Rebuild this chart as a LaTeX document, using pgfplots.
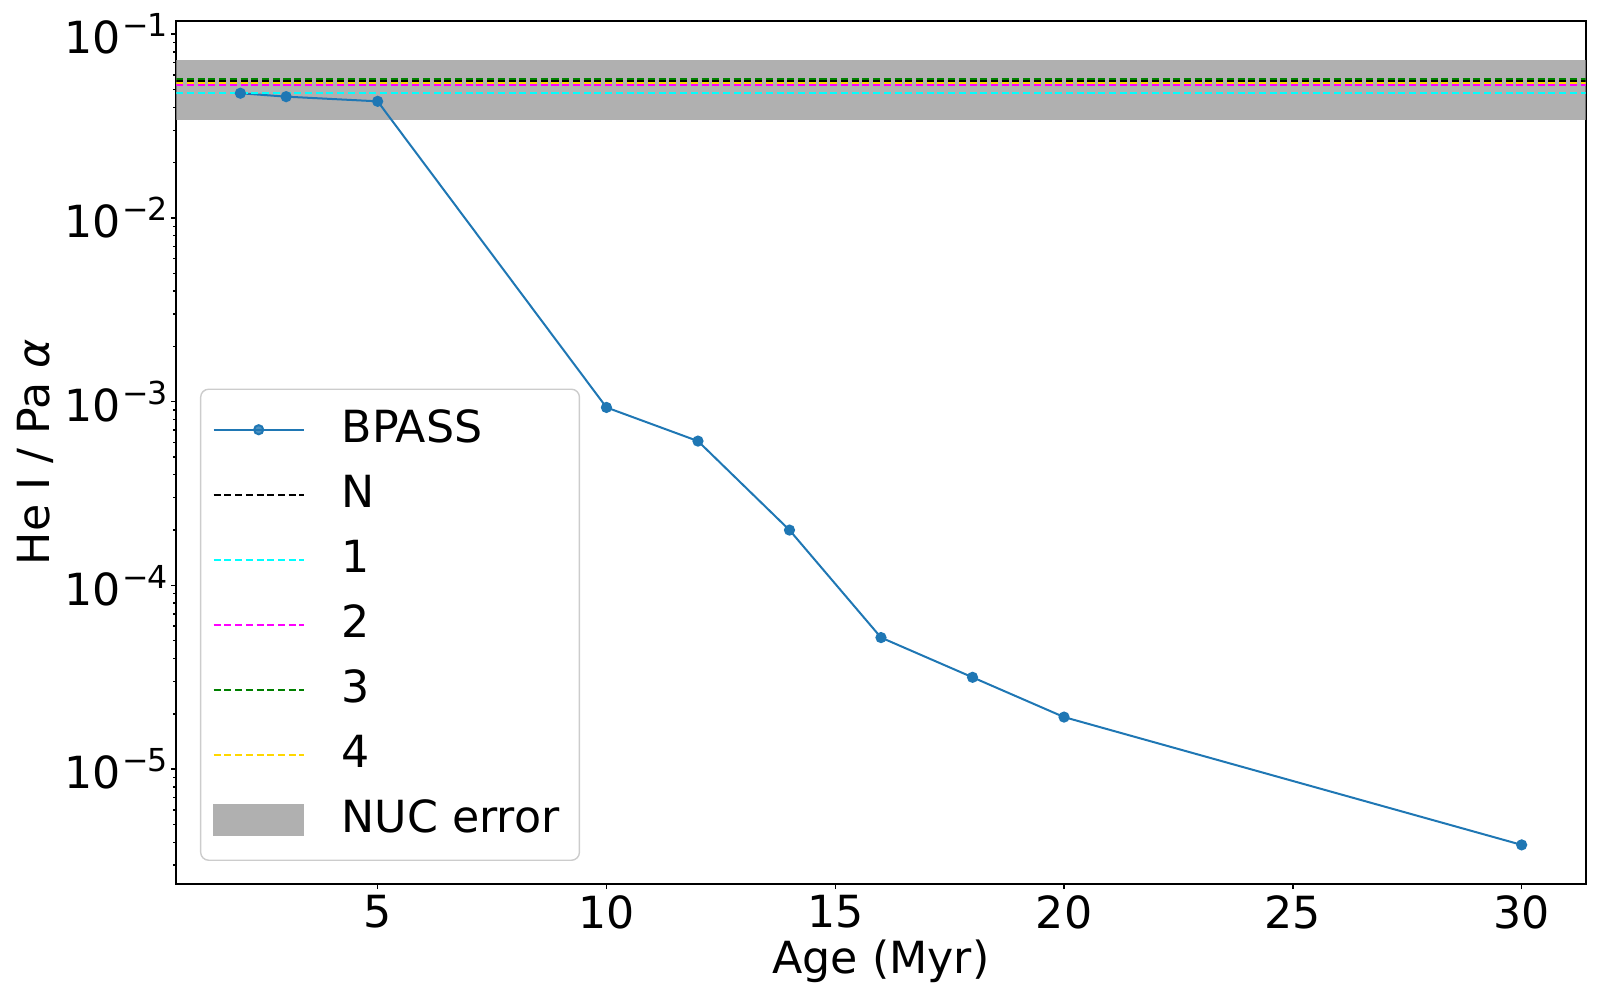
\documentclass[border=0pt]{standalone}
\usepackage{fontspec}
\setmainfont{DejaVu Sans}
\usepackage{pgfplots}
\pgfplotsset{compat=1.18}

\definecolor{c0}{HTML}{1F77B4}
\definecolor{bandgray}{RGB}{176,176,176}
\definecolor{mgold}{RGB}{255,215,0}
\definecolor{mcyan}{RGB}{0,255,255}
\definecolor{mmagenta}{RGB}{255,0,255}
\definecolor{mgreen}{RGB}{0,128,0}
\definecolor{legframe}{RGB}{204,204,204}

\newcommand{\tenexp}[1]{10\kern0.04em\raisebox{4.8pt}{\fontsize{9pt}{9pt}\selectfont −\kern-0.05em#1}}
\newcommand{\bigfont}{\fontsize{12.6pt}{15pt}\selectfont}

\begin{document}
\begin{tikzpicture}
\path[use as bounding box] (-1.763,-1.16) rectangle (14.237,8.84);
\begin{axis}[
  at={(0,0)}, anchor=south west,
  scale only axis, width=14.094cm, height=8.633cm,
  ymode=log, xmin=0.6, xmax=31.4, ymin=2.37e-6, ymax=0.1184,
  xtick={5,10,15,20,25,30},
  xticklabels={5,10,15,20,25,30},
  ytick={1e-5,1e-4,1e-3,1e-2,1e-1},
  yticklabels={\tenexp{5},\tenexp{4},\tenexp{3},\tenexp{2},\tenexp{1}},
  minor ytick={3e-6,4e-6,5e-6,6e-6,7e-6,8e-6,9e-6,
    2e-5,3e-5,4e-5,5e-5,6e-5,7e-5,8e-5,9e-5,
    2e-4,3e-4,4e-4,5e-4,6e-4,7e-4,8e-4,9e-4,
    2e-3,3e-3,4e-3,5e-3,6e-3,7e-3,8e-3,9e-3,
    2e-2,3e-2,4e-2,5e-2,6e-2,7e-2,8e-2,9e-2},
  tick align=outside, xtick pos=bottom, ytick pos=left,
  major tick length=0.05cm, minor tick length=0.03cm,
  tick style={black, line width=0.4pt},
  axis line style={black, line width=0.5pt},
  tick label style={font=\bigfont},
  xticklabel style={inner ysep=0.06cm, inner xsep=0pt},
  yticklabel style={inner xsep=0.03cm, inner ysep=0pt},
  label style={font=\bigfont},
  xlabel={Age (Myr)}, ylabel={He I / Pa {\itshape α}},
  xlabel style={at={(axis description cs:0.5,-0.0892)}, anchor=center, inner sep=0pt},
  ylabel style={at={(axis description cs:-0.0998,0.5)}, anchor=center, inner sep=0pt},
  legend style={at={(axis description cs:0.0168,0.0267)}, anchor=south west,
    draw=legframe, rounded corners=0.08cm, fill=white, fill opacity=0.8, text opacity=1,
    font=\bigfont, row sep=0.24cm, inner xsep=0.12cm, inner ysep=0.2cm,
    nodes={inner sep=0pt, text height=0.33cm, text depth=0.08cm}},
  legend cell align=left,
  legend image code/.code={\draw[mark repeat=2,mark phase=2,#1] plot coordinates {(0cm,0cm) (0.45cm,0cm) (0.9cm,0cm)};},
  every axis legend/.append style={column sep=0.37cm},
]
\addplot[draw=none, fill=bandgray, forget plot] coordinates {(0.6,0.0343) (31.4,0.0343) (31.4,0.0724) (0.6,0.0724)} -- cycle;

\addplot[c0, line width=0.57pt, mark=*, mark size=1.3pt, mark options={solid, fill=c0, draw=c0}] coordinates {
(2,0.0477) (3,0.0457) (5,0.0431) (10,9.3e-4) (12,6.1e-4) (14,2.0e-4) (16,5.2e-5) (18,3.16e-5) (20,1.92e-5) (30,3.87e-6)};
\addlegendentry{BPASS}
\addplot[black, line width=0.57pt, dash pattern=on 2pt off 1.05pt] coordinates {(0.6,0.0556) (31.4,0.0556)};
\addlegendentry{N}
\addplot[mcyan, line width=0.57pt, dash pattern=on 2pt off 1.05pt] coordinates {(0.6,0.0481) (31.4,0.0481)};
\addlegendentry{1}
\addplot[mmagenta, line width=0.57pt, dash pattern=on 2pt off 1.05pt] coordinates {(0.6,0.0530) (31.4,0.0530)};
\addlegendentry{2}
\addplot[mgreen, line width=0.57pt, dash pattern=on 2pt off 1.05pt] coordinates {(0.6,0.0571) (31.4,0.0571)};
\addlegendentry{3}
\addplot[mgold, line width=0.57pt, dash pattern=on 2pt off 1.05pt] coordinates {(0.6,0.0541) (31.4,0.0541)};
\addlegendentry{4}
\addlegendimage{legend image code/.code={\fill[bandgray, fill opacity=1, sharp corners] (0cm,-0.155cm) rectangle (0.9cm,0.155cm);}}
\addlegendentry{NUC error\rule{0.08cm}{0pt}}
\end{axis}
\end{tikzpicture}
\end{document}
